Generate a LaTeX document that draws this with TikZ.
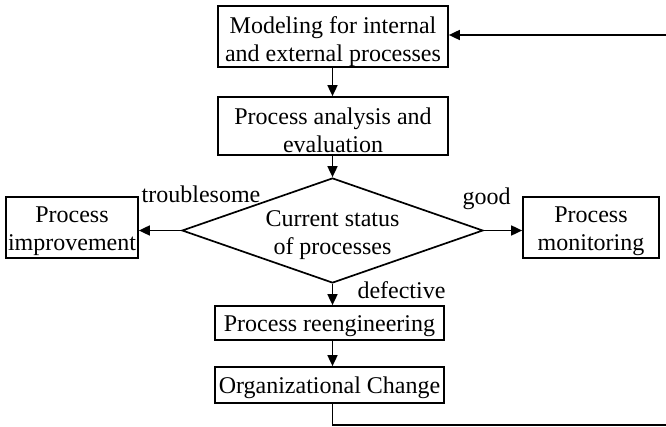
\documentclass[tikz,border=0pt]{standalone}
\usepackage{fontspec}
\setmainfont{Liberation Serif}
\usetikzlibrary{arrows.meta,shapes.geometric}

\tikzset{
  flow/.style={line width=1.7pt},
  arr/.style={flow, -{Triangle[length=11pt,width=10pt]}},
  boxshape/.style={draw, line width=1.7pt, rectangle, inner sep=0pt},
  boxtext/.style={align=center, inner sep=0pt, font=\fontsize{24}{28}\selectfont},
  lbl/.style={anchor=base, inner sep=0pt, font=\fontsize{24}{28}\selectfont},
  decision/.style={draw, line width=1.7pt, diamond, inner sep=0pt},
}

% name, x, y, width, height, downward text shift, text (clipped to the box)
\newcommand\clippedbox[7]{%
  \node[boxshape, minimum width=#4pt, minimum height=#5pt,
    path picture={\node[boxtext] at ([yshift=-#6pt]path picture bounding box.center) {#7};}]
    (#1) at (#2,#3) {};}

\begin{document}
\begin{tikzpicture}[x=1pt, y=-1pt]
  \useasboundingbox (0,0) rectangle (666,427);

  % process boxes
  \clippedbox{model}{333}{36.5}{230}{61}{5.5}{Modeling for internal\\and external processes}
  \clippedbox{analysis}{333}{126}{230}{58}{4.5}{Process analysis and\\evaluation}
  \clippedbox{improve}{72}{227.5}{132}{61}{4}{Process\\improvement}
  \clippedbox{monitor}{591}{227.5}{136}{61}{4}{Process\\monitoring}
  \clippedbox{reeng}{329.5}{323}{229}{34}{3.5}{Process reengineering}
  \clippedbox{orgchange}{329.5}{385}{229}{36}{2.5}{Organizational Change}

  % decision
  \node[decision, minimum width=301pt, minimum height=105pt] (status) at (332.5,230.5) {};
  \node[boxtext] (statustext) at ([yshift=-5pt]status.center) {Current status\\of processes};

  % branch labels
  \node[lbl] (ltrouble) at (201,203) {troublesome};
  \node[lbl] (lgood) at (486.5,205) {good};
  \node[lbl] (ldefect) at (401.5,299) {defective};

  % main flow
  \draw[arr] (model.south -| status.north) -- (analysis.north -| status.north);
  \draw[arr] (analysis.south -| status.north) -- (status.north);
  \draw[arr] (status.west) -- (status.west -| improve.east);
  \draw[arr] (status.east) -- (status.east -| monitor.west);
  \draw[arr] (status.south) -- (status.south |- reeng.north);
  \draw[arr] (reeng.south -| status.south) -- (orgchange.north -| status.south);

  % feedback loop back to modeling
  \coordinate (loopbottom) at (668,425);
  \coordinate (looptop) at (668,35);
  \draw[arr] (orgchange.south -| status.south) |- (loopbottom) -- (looptop) -- (looptop -| model.east);
\end{tikzpicture}
\end{document}
